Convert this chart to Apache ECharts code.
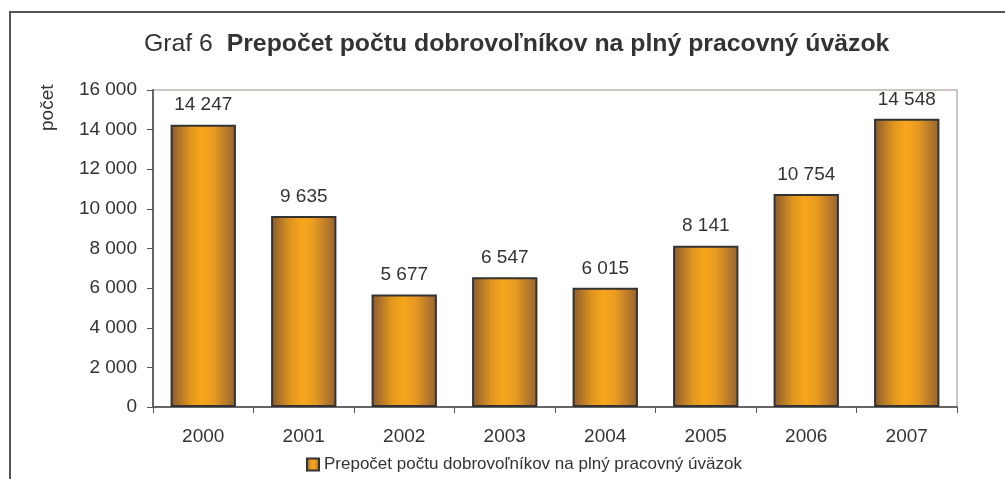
<!DOCTYPE html>
<html>
  <head>
    <meta charset="utf-8" />
    <title>Graf 6</title>
    <script src="https://cdn.jsdelivr.net/npm/echarts@6.0.0/dist/echarts.min.js"></script>
  </head>
  <body style="margin: 0; padding: 0; border: 0">
    <div id="main" style="width: 1005px; height: 479px"></div>
    <script type="text/javascript">
      var years = ["2000", "2001", "2002", "2003", "2004", "2005", "2006", "2007"];
      var values = [14247, 9635, 5677, 6547, 6015, 8141, 10754, 14548];
      var seriesName = "Prepočet počtu dobrovoľníkov na plný pracovný úväzok";

      var font = "'Liberation Sans', Arial, sans-serif";
      var fmt = function (v) {
        return String(v).replace(/\B(?=(\d{3})+(?!\d))/g, " ");
      };
      var barColor = new echarts.graphic.LinearGradient(0, 0, 1, 0, [
        { offset: 0, color: "#8a5a2e" },
        { offset: 0.3, color: "#e0961f" },
        { offset: 0.48, color: "#f8a61b" },
        { offset: 0.66, color: "#e89b22" },
        { offset: 1, color: "#946232" },
      ]);

      var myChart = echarts.init(document.getElementById("main"));
      myChart.setOption({
        animation: false,
        textStyle: { fontFamily: font },
        graphic: [
          {
            type: "rect",
            shape: { x: 10, y: 12, width: 1200, height: 700 },
            style: { fill: null, stroke: "#555", lineWidth: 2 },
          },
          {
            // y axis name, rotated
            type: "text",
            x: 38,
            y: 131,
            rotation: Math.PI / 2,
            style: {
              text: "počet",
              fontSize: 19,
              fill: "#333",
              fontFamily: font,
            },
          },
        ],
        title: {
          text: "{a|Graf 6  }{b|" + seriesName + "}",
          left: 144,
          top: 32,
          padding: 0,
          textStyle: {
            fontWeight: "normal",
            rich: {
              a: { fontSize: 24.8, color: "#333", fontWeight: "normal", fontFamily: font },
              b: { fontSize: 24.8, color: "#333", fontWeight: "bold", fontFamily: font },
            },
          },
        },
        legend: {
          bottom: 1,
          left: 301,
          icon: "rect",
          itemWidth: 12,
          itemHeight: 12,
          itemGap: 4,
          textStyle: { fontSize: 17, color: "#333", fontFamily: font },
          data: [seriesName],
        },
        grid: {
          left: 153,
          right: 48,
          top: 90,
          bottom: 72,
          show: true,
          borderColor: "#cfc5c5",
          borderWidth: 2,
        },
        xAxis: {
          type: "category",
          data: years,
          axisLine: { lineStyle: { color: "#666", width: 2 } },
          axisTick: { show: true, length: 6, lineStyle: { color: "#555" } },
          axisLabel: { fontSize: 19, color: "#333", margin: 20, fontFamily: font },
        },
        yAxis: {
          type: "value",
          min: 0,
          max: 16000,
          interval: 2000,
          axisLine: { show: true, lineStyle: { color: "#666", width: 2 } },
          axisTick: { show: true, length: 6, lineStyle: { color: "#555" } },
          splitLine: { show: false },
          axisLabel: {
            fontSize: 19,
            color: "#333",
            margin: 16,
            fontFamily: font,
            formatter: fmt,
          },
        },
        series: [
          {
            name: seriesName,
            type: "bar",
            data: values,
            barWidth: "65%",
            itemStyle: { color: barColor, borderColor: "#333", borderWidth: 2 },
            label: {
              show: true,
              position: "top",
              distance: 10,
              fontSize: 19,
              color: "#333",
              fontFamily: font,
              formatter: function (p) {
                return fmt(p.value);
              },
            },
          },
        ],
      });
    </script>
  </body>
</html>
